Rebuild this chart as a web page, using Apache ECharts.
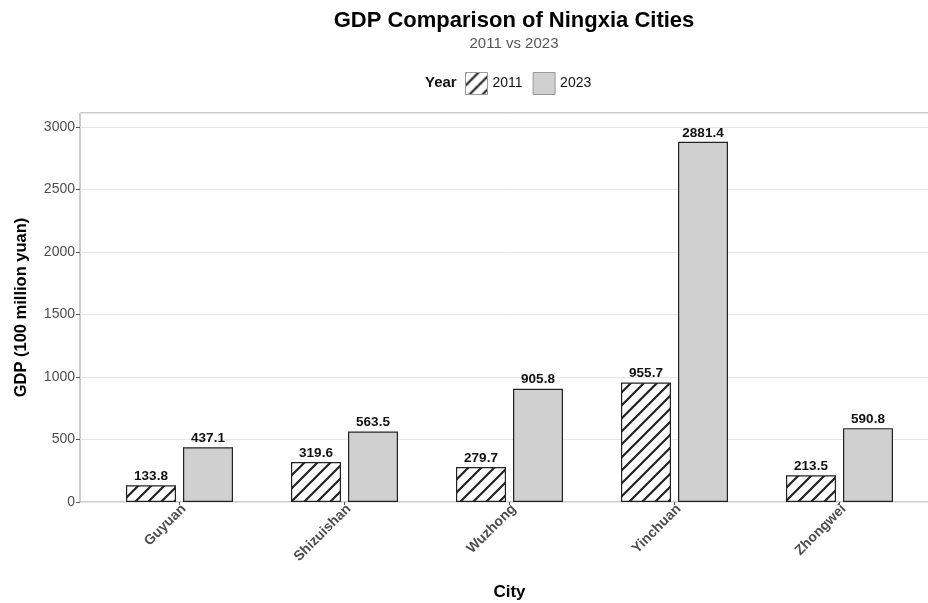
<!doctype html>
<html>
<head>
<meta charset="utf-8">
<style>
  html, body { margin: 0; padding: 0; background: #fff; }
  #chart-panel { width: 928px; height: 603px; }
</style>
<script src="https://cdn.jsdelivr.net/npm/echarts@6/dist/echarts.min.js"></script>
</head>
<body>
<div id="chart-panel"></div>
<script type="text/javascript">
var cities = ['Guyuan', 'Shizuishan', 'Wuzhong', 'Yinchuan', 'Zhongwei'];
var gdp2011 = [133.8, 319.6, 279.7, 955.7, 213.5];
var gdp2023 = [437.1, 563.5, 905.8, 2881.4, 590.8];
var yMax = 3112;

// hatch tile for the 2011 bars
function makeHatch() {
    var s = 13;
    var c = document.createElement('canvas');
    c.width = s; c.height = s;
    var ctx = c.getContext('2d');
    ctx.fillStyle = '#fff';
    ctx.fillRect(0, 0, s, s);
    ctx.strokeStyle = '#222';
    ctx.lineWidth = 2.2;
    ctx.beginPath();
    ctx.moveTo(-1, s + 1); ctx.lineTo(s + 1, -1);
    ctx.moveTo(-4, 4); ctx.lineTo(4, -4);
    ctx.moveTo(s - 4, s + 4); ctx.lineTo(s + 4, s - 4);
    ctx.stroke();
    return c;
}
var hatch = { image: makeHatch(), repeat: 'repeat' };

var font = 'Liberation Sans, Arial, sans-serif';
var labelStyle = {
    show: true,
    position: 'top',
    distance: 2,
    fontFamily: font,
    fontWeight: 'bold',
    fontSize: 13.5,
    color: '#111',
    formatter: function (p) { return p.value.toFixed(1); }
};

var myChart = echarts.init(document.getElementById('chart-panel'));
var option = {
    animation: false,
    textStyle: { fontFamily: font },
    title: [{
        text: 'GDP Comparison of Ningxia Cities',
        left: 509,
        top: 5,
        textAlign: 'center',
        textStyle: { fontSize: 22, fontWeight: 'bold', color: '#000', fontFamily: font }
    }, {
        text: '2011 vs 2023',
        left: 509,
        top: 31,
        textAlign: 'center',
        textStyle: { fontSize: 15, fontWeight: 'normal', color: '#555', fontFamily: font }
    }],
    legend: {
        data: ['2011', '2023'],
        left: 465,
        top: 72,
        padding: 0,
        itemWidth: 22,
        itemHeight: 22,
        itemGap: 10,
        icon: 'rect',
        itemStyle: { borderColor: '#999', borderWidth: 1 },
        textStyle: { fontSize: 14, color: '#111', fontFamily: font }
    },
    graphic: [{
        type: 'text',
        left: 425,
        top: 75,
        style: { text: 'Year', fontSize: 15, fontWeight: 'bold', fill: '#111', fontFamily: font }
    }],
    grid: [{
        left: 80, top: 113, width: 858, bottom: 101,
        outerBoundsMode: 'none', containLabel: false,
        show: true, borderColor: '#999', borderWidth: 1, backgroundColor: 'transparent'
    }, {
        left: 97, top: 113, width: 825, bottom: 101,
        outerBoundsMode: 'none', containLabel: false
    }],
    xAxis: [{
        gridIndex: 0, type: 'value', min: 0, max: 1,
        axisLine: { show: false }, axisTick: { show: false },
        axisLabel: { show: false }, splitLine: { show: false }
    }, {
        gridIndex: 1, type: 'category', data: cities,
        name: 'City', nameLocation: 'middle', nameGap: 82,
        nameTextStyle: { fontSize: 17, fontWeight: 'bold', color: '#000', fontFamily: font },
        axisLine: { show: false },
        axisTick: { show: true, alignWithLabel: true, length: 3, lineStyle: { color: '#555' } },
        axisLabel: { rotate: 45, margin: 9, padding: [0, -6, 0, 0], fontSize: 14, fontWeight: 'bold',
            color: '#4d4d4d', fontFamily: font }
    }],
    yAxis: [{
        gridIndex: 0, type: 'value', min: 0, max: yMax, interval: 500,
        name: 'GDP (100 million yuan)', nameLocation: 'middle', nameGap: 50,
        nameTextStyle: { fontSize: 16.5, fontWeight: 'bold', color: '#000', fontFamily: font },
        axisLine: { show: false },
        axisTick: { show: true, length: 4, lineStyle: { color: '#555' } },
        axisLabel: { fontSize: 14, color: '#4d4d4d', margin: 5, fontFamily: font,
            showMaxLabel: false,
            formatter: function (v) { return String(v); } },
        splitLine: { show: true, lineStyle: { color: '#e6e6e6', width: 1 } }
    }, {
        gridIndex: 1, type: 'value', min: 0, max: yMax, show: false,
        splitLine: { show: false }
    }],
    series: [{
        name: '2011', type: 'bar', xAxisIndex: 1, yAxisIndex: 1,
        data: gdp2011, barWidth: 50, barGap: '14%',
        itemStyle: { color: hatch, borderColor: '#222', borderWidth: 1.2 },
        label: labelStyle
    }, {
        name: '2023', type: 'bar', xAxisIndex: 1, yAxisIndex: 1,
        data: gdp2023, barWidth: 50, barGap: '14%',
        itemStyle: { color: '#d0d0d0', borderColor: '#222', borderWidth: 1.2 },
        label: labelStyle
    }]
};
myChart.setOption(option);
</script>
</body>
</html>
